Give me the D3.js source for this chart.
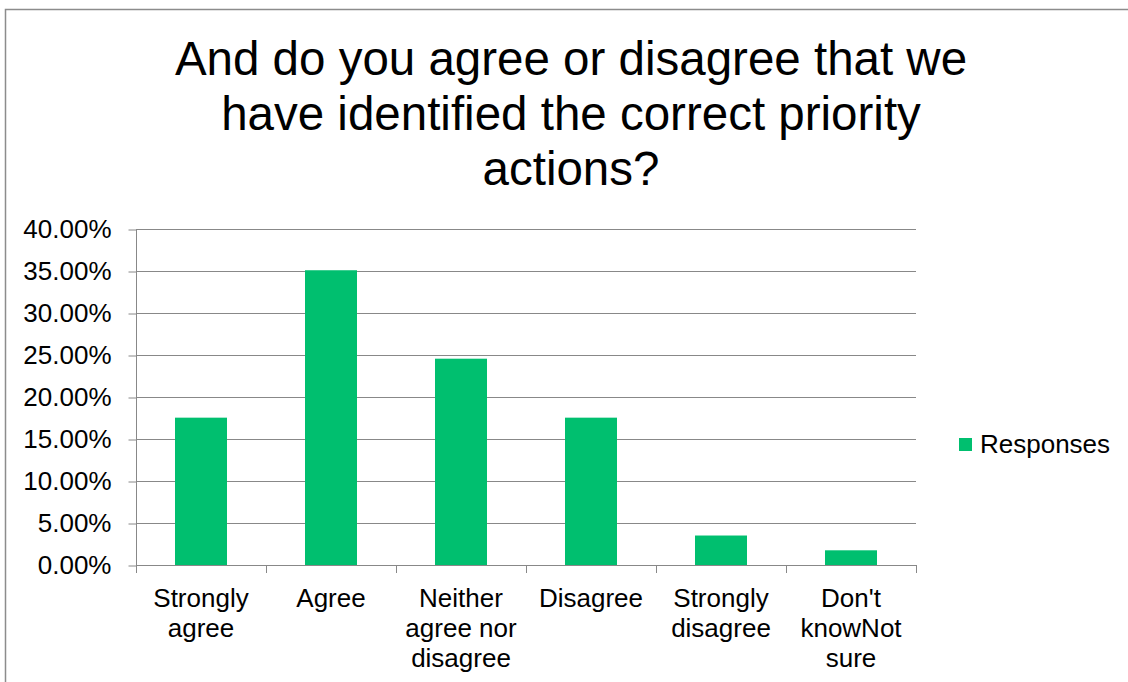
<!DOCTYPE html>
<html>
<head>
<meta charset="utf-8">
<script src="https://cdn.jsdelivr.net/npm/d3@7"></script>
<style>
  body { margin: 0; background: #fff; }
  text { font-family: "Liberation Sans", Arial, sans-serif; fill: #000; }
</style>
</head>
<body>
<div id="chart"></div>
<script>
// data
let categories = ["Strongly agree", "Agree", "Neither agree nor disagree", "Disagree", "Strongly disagree", "Don't knowNot sure"];
let categoryLines = [["Strongly", "agree"], ["Agree"], ["Neither", "agree nor", "disagree"], ["Disagree"], ["Strongly", "disagree"], ["Don't", "knowNot", "sure"]];
let responses = [0.1754, 0.3509, 0.2456, 0.1754, 0.0351, 0.0175];
let yTicks = [0, 0.05, 0.10, 0.15, 0.20, 0.25, 0.30, 0.35, 0.40];
let titleLines = ["And do you agree or disagree that we", "have identified the correct priority", "actions?"];
let seriesName = "Responses";

let svgWidth = 1128;
let svgHeight = 682;
let plot = { left: 136, right: 916, top: 229, bottom: 565 };
let barColor = "#00BF6F";
let gridColor = "#888888";

let svg = d3.select("#chart")
  .append("svg")
  .attr("width", svgWidth)
  .attr("height", svgHeight);

// outer frame
svg.append("rect")
  .attr("x", 5.5)
  .attr("y", 9.5)
  .attr("width", 1140)
  .attr("height", 700)
  .attr("fill", "none")
  .attr("stroke", "#8c8c8c")
  .attr("stroke-width", 1.5);

// title
svg.append("text")
  .attr("text-anchor", "middle")
  .style("font-size", "47.5px")
  .selectAll("tspan")
  .data(titleLines)
  .enter()
  .append("tspan")
  .attr("x", 571)
  .attr("y", (d, i) => 75 + i * 55)
  .text(d => d);

// scales
let x = d3.scaleBand()
  .domain(categories)
  .range([plot.left, plot.right])
  .paddingInner(0.6)
  .paddingOuter(0.3);

let y = d3.scaleLinear()
  .domain([0, 0.4])
  .range([plot.bottom, plot.top]);

// gridlines
svg.append("g")
  .selectAll("line")
  .data(yTicks)
  .enter()
  .append("line")
  .attr("x1", plot.left)
  .attr("x2", plot.right)
  .attr("y1", d => Math.round(y(d)) + 0.5)
  .attr("y2", d => Math.round(y(d)) + 0.5)
  .attr("stroke", gridColor)
  .attr("stroke-width", 1);

// y axis
let leftAxis = d3.axisLeft(y)
  .tickValues(yTicks)
  .tickFormat(d3.format(".2%"))
  .tickSize(8)
  .tickPadding(17);

let yAxis = svg.append("g")
  .attr("transform", `translate(${plot.left + 0.5}, 0.5)`)
  .call(leftAxis);
yAxis.selectAll("path, line").attr("stroke", gridColor);
yAxis.select(".domain").attr("d", `M0,${plot.top}V${plot.bottom}`);
yAxis.selectAll("text")
  .style("font-size", "26px")
  .style("font-family", "'Liberation Sans', Arial, sans-serif")
  .attr("fill", "#000");

// bars
svg.append("g")
  .selectAll("rect")
  .data(responses)
  .enter()
  .append("rect")
  .attr("x", (d, i) => x(categories[i]))
  .attr("y", d => y(d))
  .attr("width", x.bandwidth())
  .attr("height", d => y(0) - y(d))
  .attr("fill", barColor);

// x axis
let xAxis = svg.append("g");
xAxis.append("line")
  .attr("x1", plot.left)
  .attr("x2", plot.right)
  .attr("y1", plot.bottom + 0.5)
  .attr("y2", plot.bottom + 0.5)
  .attr("stroke", gridColor);
xAxis.selectAll(".tick")
  .data(d3.range(categories.length + 1))
  .enter()
  .append("line")
  .attr("x1", i => plot.left + i * x.step() + 0.5)
  .attr("x2", i => plot.left + i * x.step() + 0.5)
  .attr("y1", plot.bottom)
  .attr("y2", plot.bottom + 8)
  .attr("stroke", gridColor);

// category labels
categories.forEach(function(cat, i) {
  svg.append("text")
    .attr("text-anchor", "middle")
    .style("font-size", "26px")
    .selectAll("tspan")
    .data(categoryLines[i])
    .enter()
    .append("tspan")
    .attr("x", x(cat) + x.bandwidth() / 2)
    .attr("y", (d, j) => 607 + j * 30)
    .text(d => d);
});

// legend
svg.append("rect")
  .attr("x", 959)
  .attr("y", 438)
  .attr("width", 13)
  .attr("height", 13)
  .attr("fill", barColor);

svg.append("text")
  .attr("x", 980)
  .attr("y", 453)
  .style("font-size", "26px")
  .text(seriesName);
</script>
</body>
</html>
